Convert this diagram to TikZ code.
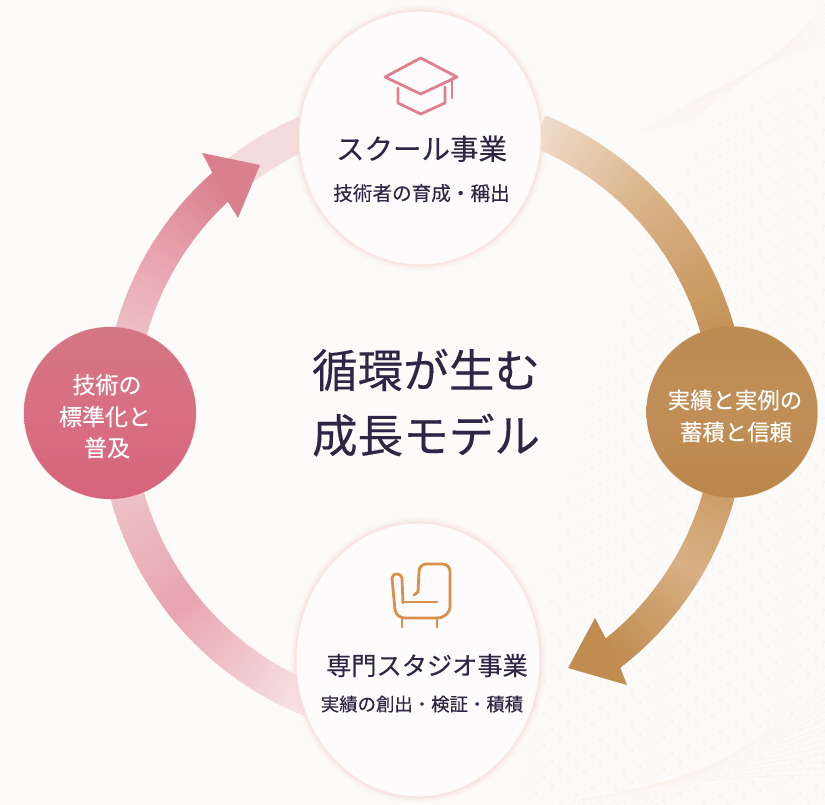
\documentclass[tikz,border=0pt]{standalone}
\usepackage{fontspec}
\usetikzlibrary{shapes.geometric}
\newfontfamily\jp[FakeBold=0.25]{Noto Sans CJK JP}
\definecolor{bgc}{HTML}{FCFBFA}
\definecolor{inkc}{HTML}{2E2645}
\definecolor{tracec}{HTML}{FBEEE6}
\definecolor{goldc}{HTML}{C08C4F}
\definecolor{goldl}{HTML}{D8B084}
\definecolor{goldp}{HTML}{F1DBC9}
\definecolor{rosec}{HTML}{D9808E}
\definecolor{rosel}{HTML}{E9A5AF}
\definecolor{rosem}{HTML}{EDC3C8}
\definecolor{rosep}{HTML}{F7E6E7}
\definecolor{capc}{HTML}{E07F90}
\definecolor{chairc}{HTML}{D9904A}
\definecolor{haloc}{HTML}{F7D8D3}
\definecolor{discc}{HTML}{FDFBFB}
\definecolor{balltop}{HTML}{D47683}
\definecolor{ballmid}{HTML}{D96F83}
\definecolor{ballbot}{HTML}{D5647B}
\definecolor{nuggettop}{HTML}{BD8B50}
\definecolor{nuggetmid}{HTML}{C08F58}
\definecolor{nuggetbot}{HTML}{BC864A}
\tikzset{
  lab/.style={inner sep=0pt,anchor=base,text=inkc},
  whitelab/.style={inner sep=0pt,anchor=base,text=white},
  discnode/.style={ellipse,inner sep=0pt,fill=discc,draw=haloc!70,line width=1pt},
  ballnode/.style={circle,inner sep=0pt},
  iconline/.style={line width=2.8pt,line join=round,line cap=round},
  trace/.style={tracec!65!bgc,line width=.6pt}
}
% angle from, angle to, colour from, colour to, radius, width
\newcommand{\bandseg}[6]{%
  \foreach \k in {0,...,30}{%
    \pgfmathsetmacro{\angA}{#1+(#2-#1)*\k/31}%
    \pgfmathsetmacro{\angB}{#1+(#2-#1)*(\k+1.3)/31}%
    \pgfmathsetmacro{\mixp}{100*\k/30}%
    \colorlet{segc}{#4!\mixp!#3}%
    \draw[segc,line width=#6pt] (ring) ++(\angA:#5pt) arc[start angle=\angA,end angle=\angB,radius=#5pt];%
  }%
}
% centre, x radius, y radius, colour
\newcommand{\glow}[4]{%
  \foreach \d/\o in {6/.10,4/.14,2.5/.18,1.5/.25}{%
    \fill[#4,opacity=\o] (#1) ellipse [x radius={#2+\d},y radius={#3+\d}];%
  }%
}
\begin{document}
\begin{tikzpicture}[x=1pt,y=1pt]
\useasboundingbox (0,0) rectangle (825,805);
\fill[bgc] (0,0) rectangle (825,805);
\coordinate (ring) at (425,392);

% background texture
\begin{scope}
\clip (520,0) -- (825,0) -- (825,760) -- (720,700) -- (640,560) -- (560,300) -- cycle;
\foreach \r in {-14,...,36}{
  \foreach \c in {0,...,22}{
    \fill[tracec] ({480+\c*16+mod(\r,2)*8},{\r*16+\c*7}) circle (1.5);
  }
}
\end{scope}
\foreach \i in {0,...,13}{
  \draw[trace] ({560+\i*8},0) .. controls ({650+\i*5},{22+\i*2}) and ({740+\i*3},{30+\i*3}) .. (825,{30+\i*7});
}
\foreach \i in {0,...,9}{
  \draw[trace] ({640+\i*5},{672+\i*1}) .. controls ({700+\i*4},{710+\i*1}) and ({770+\i*2},{745+\i*1}) .. (825,{762+\i*4.3});
}

% top-right arrow shaft
\bandseg{68}{42}{goldp}{goldl}{304}{34}
\bandseg{42}{10}{goldl}{goldc}{304}{34}
% lower-right arrow
\bandseg{-10}{-30}{goldc!70!goldl}{goldl}{305}{32}
\bandseg{-30}{-53}{goldl}{goldc}{305}{32}
\coordinate (goldtip) at (568,137);
\fill[goldc] (goldtip) -- (595,187) -- (605,168) -- (620,138) -- (627,120) -- cycle;
% lower-left band
\bandseg{249}{218}{rosep}{rosel}{309}{34}
\bandseg{218}{194}{rosel}{rosem}{309}{34}
% upper-left arrow
\bandseg{128}{112}{rosep!70!rosem}{rosep}{305}{34}
\bandseg{167}{150}{rosem}{rosel}{305}{32}
\bandseg{150}{131}{rosel}{rosec}{305}{32}
\coordinate (rosetip) at (260,640);
\fill[rosec] (rosetip) -- (202,652) -- (212,633) -- (228,603) -- (238,587) -- cycle;

% four circles
\glow{420,667}{121}{127}{haloc}
\node[discnode,minimum width=242pt,minimum height=254pt] (school) at (420,667) {};
\glow{418,145}{122}{137}{haloc}
\node[discnode,minimum width=244pt,minimum height=274pt] (studio) at (418,145) {};
\fill[rosec,opacity=.25] (110,392) circle (86.5);
\node[ballnode,minimum size=172pt,top color=balltop,bottom color=ballbot,middle color=ballmid] (standard) at (110,392) {};
\fill[goldc,opacity=.25] (732,393) circle (86);
\node[ballnode,minimum size=171pt,top color=nuggettop,bottom color=nuggetbot,middle color=nuggetmid] (proof) at (732,393) {};

% mortarboard icon
\draw[capc,iconline] (385,728) -- (420.7,747) -- (457,728) -- (420.7,711) -- cycle;
\draw[capc,iconline] (398,717) -- (398,702) -- (420.7,691) -- (445,702) -- (445,718);
\draw[capc,iconline] (452,727) -- (452,707);

% armchair icon
\draw[chairc,iconline] (403,202) -- (402,227) .. controls (401,232) and (393,233) .. (392,227)
  -- (395,195) .. controls (396,190) and (400,187) .. (405,187) -- (437,187)
  .. controls (445,187) and (450,193) .. (450,198) -- (450,233)
  .. controls (450,238) and (447,241) .. (442,241) -- (427,241)
  .. controls (422,241) and (419,238) .. (419,233) -- (418,213) -- (414,210);
\draw[chairc,iconline] (405,203) -- (437,203);
\draw[chairc,iconline] (402,187) -- (402,178);
\draw[chairc,iconline] (437,187) -- (437,178);

% labels
\node[lab,font=\fontsize{28.5}{28.5}\selectfont\jp] (schooltitle) at (421.5,645.5) {スクール事業};
\node[lab,font=\fontsize{19.6}{19.6}\selectfont\jp] (schoolsub) at (421.5,604.5) {技術者の育成・稱出};
\node[lab,font=\fontsize{45.6}{45.6}\selectfont\jp] (titleA) at (426,417.5) {循環が生む};
\node[lab,font=\fontsize{45.6}{45.6}\selectfont\jp] (titleB) at (426,352.5) {成長モデル};
\node[lab,font=\fontsize{25.2}{25.2}\selectfont\jp] (studiotitle) at (427,130) {専門スタジオ事業};
\node[lab,font=\fontsize{18.4}{18.4}\selectfont\jp] (studiosub) at (422,94) {実績の創出・検証・積積};
\node[whitelab,font=\fontsize{23}{23}\selectfont\jp] (stdA) at (107,411.5) {技術の};
\node[whitelab,font=\fontsize{23}{23}\selectfont\jp] (stdB) at (105,379.5) {標準化と};
\node[whitelab,font=\fontsize{23}{23}\selectfont\jp] (stdC) at (107,348.5) {普及};
\node[whitelab,font=\fontsize{22.4}{22.4}\selectfont\jp] (prfA) at (735,396.5) {実績と実例の};
\node[whitelab,font=\fontsize{22.4}{22.4}\selectfont\jp] (prfB) at (736,364.5) {蓄積と信頼};
\end{tikzpicture}
\end{document}
